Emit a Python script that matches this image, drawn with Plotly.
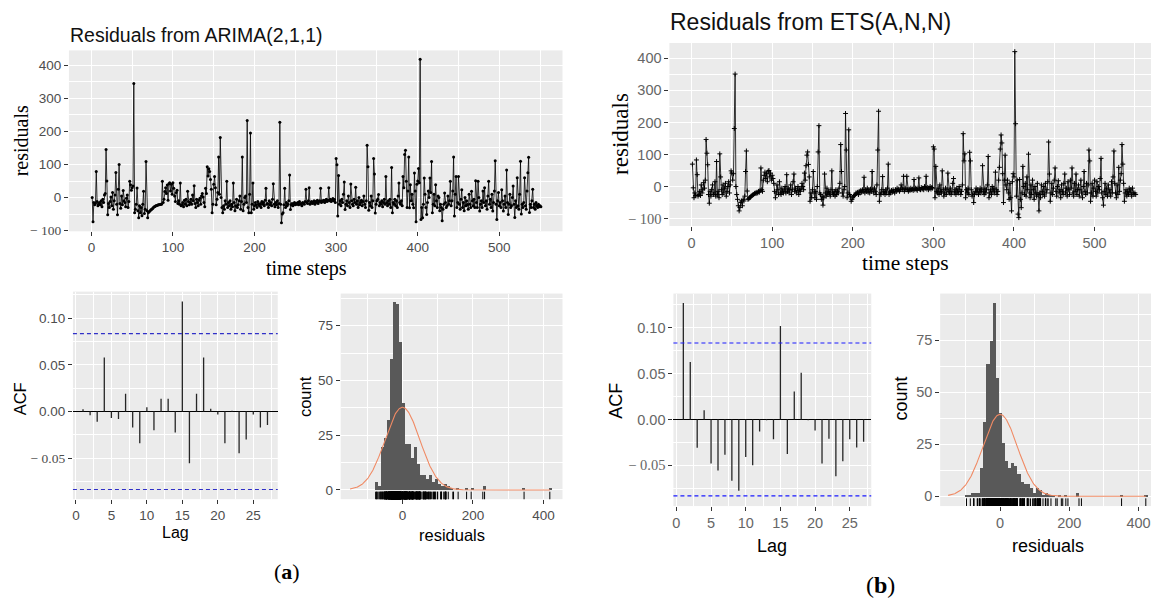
import numpy as np
import plotly.graph_objects as go

W, H = 1151, 605

# ---------------- data ----------------
arima_resid = [
    0, -73, -15, -22, -18, 79, -12, -25, -20, -15,
    -22, -10, -28, -5, -15, 8, 12, 145, 50, -52,
    -18, -30, -12, 2, -25, 15, -35, -10, 8, 76,
    -20, -52, 25, 100, -18, -32, 5, -22, 21, -10,
    -15, -28, -2, 8, -30, -12, 49, 39, 22, 30,
    35, 345, -46, -35, -20, 29, -40, -61, -25, -46,
    -30, -55, -20, 19, -48, -35, 109, -40, -61, -45,
    -42, -40, -37, -35, -33, -30, -28, -27, -25, -24,
    -23, -22, -22, -21, -20, -20, 49, -15, -5, 18,
    30, 12, 38, -8, 42, 45, 20, 40, 10, 45,
    28, 5, -12, 15, 22, -18, -10, -20, 44, -25,
    -22, -15, -28, -8, -20, -5, -25, 19, -12, -22,
    -15, -5, -20, 8, -10, 36, -18, -30, -5, -15,
    -25, -8, -2, -20, 5, 12, 2, -15, -28, 28,
    12, 93, 65, 87, 79, 55, 25, -46, -20, 40,
    64, 30, -22, -5, 15, 123, 10, 182, 0, -30,
    -46, -25, -35, -10, -20, 49, -30, -15, -25, -10,
    -35, -20, -28, 44, -15, -40, -25, -5, -30, -22,
    -10, 5, -35, -12, 123, -40, -20, 0, 5, -15,
    233, -30, -46, 10, 195, -46, -20, 44, -35, -25,
    -15, -22, -30, -12, -20, -25, -18, -30, -12, -20,
    -15, -25, -8, 28, -20, -18, -30, -10, -22, -15,
    -25, -5, 42, -20, -28, -15, -22, -10, -30, -18,
    228, -20, -76, -50, -46, -22, 28, -30, -15, -25,
    -20, -10, 68, -36, -22, -18, -25, -20, -15, -22,
    -18, -20, -15, -22, -12, -20, -18, -25, -15, -18,
    -20, -12, 25, -15, -18, -10, 30, -20, -15, -12,
    -18, -15, -10, -20, -12, -15, -8, -18, -12, -10,
    28, -15, -10, -12, -8, -15, -10, -5, -12, -8,
    30, -10, -5, -12, -8, -3, -10, -6, -15, 118,
    99, -56, 67, -20, -10, -25, -5, -15, 10, 47,
    -36, -20, -10, -25, 5, -15, -30, 41, -10, -20,
    -25, -5, -15, 31, -20, -10, -30, 0, -22, -15,
    -8, -25, -12, 5, -20, -30, -10, 158, 93, -38,
    -15, -25, 5, -30, -10, 118, 71, -47, -20, -10,
    -5, 9, -25, -15, -20, -10, -28, -15, -5, -20,
    64, -16, -25, -10, -20, -5, -30, 91, -46, -15,
    -20, -5, -25, -10, -30, 5, 44, -15, -20, -10,
    -25, 64, 30, 130, 143, 49, -30, 20, 123, -31,
    39, -10, 10, -20, -31, 74, 20, -73, 40, 50,
    88, 45, 418, -66, -30, -61, -20, 59, 10, -30,
    -51, -15, 20, 0, 59, 15, 109, -46, -20, 10,
    -25, 39, -10, -30, 5, 0, -40, -20, -30, -70,
    -35, -20, 14, -15, -30, -25, 5, -20, -10, 49,
    -25, -10, 20, 123, -56, 10, 64, -30, -15, 64,
    -20, -35, -5, 24, -30, -15, -40, 0, -25, -10,
    -21, -35, 10, -20, -30, 19, -10, -25, -5, -30,
    51, -15, -30, 49, 0, -41, -20, -10, -30, 20,
    -15, 30, -25, -10, -35, 5, 49, -20, -5, -30,
    10, -41, -15, 20, 111, -20, -66, -10, 15, -25,
    -15, -30, 24, -10, -41, -20, 5, -30, 83, -15,
    -51, -20, 10, -30, -25, 0, 35, -20, -60, -10,
    -30, 60, -25, -35, 10, 110, -50, -20, -30, -15,
    60, -25, -35, 20, 75, 122, -45, -20, -30, -10,
    25, -30, -20, -35, -15, -25, -30, -20, -28, -25,
    -28,
]

ets_resid = [
    70, -4, -35, -20, -28, 83, 37, -30, -25, -15,
    -28, 5, -20, -10, 12, -5, 20, 147, 104, 68,
    -25, -52, -15, -30, -10, 5, -25, -20, 15, -30,
    78, -25, -15, -35, 102, 30, -10, -25, 5, -20,
    -5, 10, -30, -15, 0, 15, -20, 5, 49, 42,
    20, 40, 181, 351, 0, -25, -40, -60, -76, -65,
    -50, -45, -60, -40, -45, -30, 47, 111, -14, -40,
    -38, -35, -33, -30, -28, -26, -25, -22, -20, -22,
    -18, -20, -15, -18, -12, 58, -10, -15, 20, 35,
    45, 25, 40, 15, 48, 50, 30, 42, 20, 35,
    25, 10, -15, -35, -20, 5, -10, -25, 15, -20,
    -25, -5, -15, -20, -10, 0, -20, 37, -15, -5,
    -20, -10, 5, -25, -10, 15, 39, -15, -5, -20,
    -12, 0, -25, -10, -15, -5, 10, 0, -10, 42,
    20, 65, 98, 108, 69, 30, -46, -20, -35, -10,
    47, -20, -35, -15, -40, 0, 108, 190, -20, -25,
    -40, -30, -58, -35, 39, -20, -30, -5, -25, -15,
    -20, -30, -10, 49, -20, -25, -15, -30, -10, -25,
    -15, -20, -5, 10, 131, 47, -20, -30, -10, 0,
    228, 114, -35, -20, 177, -25, -30, -46, -40, -35,
    -30, -28, -25, -20, -22, -18, -25, -15, -20, -12,
    -18, -10, -15, 29, -20, -10, -15, -5, -18, -10,
    -20, -8, -15, 47, -10, -20, -5, -15, -25, 5,
    114, 235, -46, -20, -25, -10, 31, -20, -15, -25,
    -10, -20, -5, 70, -25, -15, -20, -12, -18, -10,
    -15, -20, -10, -15, -5, -12, -8, -15, -10, 5,
    -5, -10, 32, -15, -5, -10, 32, -10, -15, -8,
    -12, -5, -10, -8, -12, 22, -10, -5, -8, -12,
    -5, 27, -8, -10, -3, -8, -5, -10, 0, -5,
    32, -8, -3, -10, -5, 0, -8, -3, -5, 124,
    117, -35, 63, -15, -20, -5, -25, 5, -15, -20,
    49, -10, -30, -20, -5, -25, -10, 42, -15, -20,
    -5, -25, -15, 10, 25, -20, -10, -25, -5, -15,
    -20, 0, -10, -25, -15, 5, 165, 80, 102, -35,
    -10, -20, -5, -25, 107, 80, -10, -30, -20, -50,
    -25, -15, -5, -20, -10, -25, -15, -5, -20, -10,
    65, -15, -25, -5, -20, -10, 5, 94, -35, -20,
    -10, -25, 0, -15, -5, -20, 45, -10, -25, -15,
    20, 60, 117, 161, 136, 40, -50, 20, 98, 5,
    -10, 20, -20, -40, 10, -35, -76, 15, 40, 30,
    421, 196, -30, 20, -86, -97, 22, -40, -66, -20,
    63, 0, -25, 10, -30, 30, -10, 101, -20, -35,
    5, -25, 20, -10, -40, 0, -20, -30, 10, -25,
    -76, -20, -35, 5, -15, -25, 0, -30, 10, -20,
    -10, 15, 139, 39, -46, -20, 10, -25, -5, 20,
    58, -15, -30, 0, 18, -20, -10, -35, 5, -15,
    -25, 10, 39, -20, -5, -30, 15, -10, -25, 20,
    -5, 58, -20, -30, 10, -15, 39, -25, -10, 5,
    -30, -10, 20, -20, -35, 0, 47, -15, -25, 10,
    -20, 5, 114, 80, -46, -20, 10, -30, -5, 20,
    -15, -30, 15, -20, 0, -10, 25, 88, -20, -35,
    -58, -15, 10, -25, -5, -30, 5, -20, -10, -30,
    15, -20, 30, 111, 10, -20, -35, 5, -25, 60,
    -15, 20, 40, 131, 70, 10, -46, -20, -10, -30,
    -15, -25, -5, -20, -10, -30, -5, -20, -25, -20,
    -25,
]

acf_lags = list(range(1, 28))
arima_acf = [0.0025, -0.004, -0.011, 0.058, -0.007, -0.008, 0.019, -0.017, -0.034,
             0.0046, -0.020, 0.0137, 0.0137, -0.0225, 0.118, -0.0553, 0.019, 0.058,
             0.003, -0.003, -0.034, 0.001, -0.0447, -0.030, -0.003, -0.017, -0.0145]
ets_acf = [0.127, 0.0626, -0.031, 0.010, -0.048, -0.0558, -0.0385, -0.067, -0.078,
           -0.041, -0.050, -0.0133, -0.001, -0.0216, 0.102, -0.0378, 0.0306, 0.051,
           -0.001, -0.0122, -0.048, -0.0212, -0.062, -0.0457, -0.0216, -0.0306, -0.0245]

arima_hist_counts = [4, 2, 20, 24, 32, 60, 86, 85, 68, 40, 21, 21, 15, 20, 12, 7, 7, 5, 7, 4,
                     5, 3, 2, 3, 2, 1, 0, 1, 0, 0, 1, 0, 1, 0, 0, 0, 2, 0, 0, 0,
                     0, 0, 0, 0, 0, 0, 0, 0, 0, 1, 0, 0, 0, 0, 0, 0, 0, 0, 1]
arima_first_bin_center = -75.0
arima_binwidth = 8.5

ets_hist_counts = [1, 1, 2, 2, 2, 14, 36, 64, 75, 93, 57, 40, 26, 17, 14, 16, 15, 11, 7, 6,
                   6, 4, 2, 4, 3, 1, 2, 1, 1, 0, 1, 0, 1, 0, 0, 0, 2, 0, 0, 0,
                   0, 0, 0, 0, 0, 0, 0, 0, 0, 0, 1, 0, 0, 0, 0, 0, 0, 0, 1]
ets_first_bin_center = -97.0
ets_binwidth = 8.95

arima_norm_mean, arima_norm_sd = 0.0, 49.5
ets_norm_mean, ets_norm_sd = 0.0, 50.0

ts_ticks = [-100, 0, 100, 200, 300, 400]
ts_ticktext = ['<span style="font-family:Liberation Serif">\u2212 100</span>', '0', '100', '200', '300', '400']
time_ticks = [0, 100, 200, 300, 400, 500]
acf_yticks = [-0.05, 0.0, 0.05, 0.10]
acf_yticktext = ['<span style="font-family:Liberation Serif">\u2212 0.05</span>', '0.00', '0.05', '0.10']
acf_xticks = [0, 5, 10, 15, 20, 25]
hist_xticks = [0, 200, 400]
hist_yticks = [0, 25, 50, 75]

# ---------------- helpers ----------------
def dom_x(a, b):
    return [a / W, min(b / W, 1.0)]

def dom_y(top, bottom):
    return [1 - bottom / H, 1 - top / H]

SANS = 'Liberation Sans'
SERIF = 'Liberation Serif'

def make_axis(domain, rng, tickvals, ticktext, minor_vals, fsize, fcolor, anchor, zeroline=False):
    d = dict(domain=domain, range=rng, tickmode='array', tickvals=tickvals,
             ticktext=ticktext if ticktext is not None else [str(v) for v in tickvals],
             ticks='outside', ticklen=4, tickwidth=1, tickcolor='#333333',
             showgrid=True, gridcolor='white', gridwidth=1.2,
             zeroline=zeroline, showline=False, anchor=anchor, fixedrange=True,
             tickfont=dict(family=SANS, size=fsize, color=fcolor),
             minor=dict(tickmode='array', tickvals=minor_vals, showgrid=True,
                        gridcolor='white', gridwidth=0.6, ticks=''))
    if zeroline:
        d.update(zerolinecolor='black', zerolinewidth=1)
    return d

t = list(range(1, len(arima_resid) + 1))
t_e = list(range(1, len(ets_resid) + 1))

fig = go.Figure()

# top time series
fig.add_trace(go.Scatter(x=t, y=arima_resid, mode='lines+markers',
                         line=dict(color='black', width=0.8),
                         marker=dict(size=3, color='black'),
                         xaxis='x', yaxis='y', showlegend=False))
fig.add_trace(go.Scatter(x=t_e, y=ets_resid, mode='lines+markers',
                         line=dict(color='black', width=0.8),
                         marker=dict(size=3.5, symbol='cross-thin-open', color='black',
                                     line=dict(width=1, color='black')),
                         xaxis='x2', yaxis='y2', showlegend=False))

# ACF
def acf_segments(lags, vals):
    xs, ys = [], []
    for l, v in zip(lags, vals):
        xs += [l, l, None]
        ys += [0, v, None]
    return xs, ys

n_obs = len(arima_resid)
ci = 1.96 / np.sqrt(n_obs)

for vals, xa, ya in [(arima_acf, 'x3', 'y3'), (ets_acf, 'x5', 'y5')]:
    xs, ys = acf_segments(acf_lags, vals)
    fig.add_trace(go.Scatter(x=xs, y=ys, mode='lines', line=dict(color='#262626', width=1.3),
                             xaxis=xa, yaxis=ya, showlegend=False))

# histograms
def add_hist(counts, c0, bw, resid, mean, sd, xa, ya, rug_y):
    centers = [c0 + k * bw for k in range(len(counts))]
    fig.add_trace(go.Bar(x=centers, y=counts, width=bw, marker=dict(color='#595959', line=dict(width=0)),
                         xaxis=xa, yaxis=ya, showlegend=False))
    xmin = min(min(resid), mean - 3 * sd)
    xmax = max(max(resid), mean + 3 * sd)
    xx = np.linspace(xmin, xmax, 400)
    yy = len(resid) * bw * np.exp(-0.5 * ((xx - mean) / sd) ** 2) / (sd * np.sqrt(2 * np.pi))
    fig.add_trace(go.Scatter(x=xx, y=yy, mode='lines', line=dict(color='#f08a64', width=1.1),
                             xaxis=xa, yaxis=ya, showlegend=False))
    fig.add_trace(go.Scatter(x=resid, y=[rug_y] * len(resid), mode='markers',
                             marker=dict(symbol='line-ns-open', size=6, color='black',
                                         line=dict(width=1, color='black')),
                             xaxis=xa, yaxis=ya, showlegend=False))

add_hist(arima_hist_counts, arima_first_bin_center, arima_binwidth, arima_resid,
         arima_norm_mean, arima_norm_sd, 'x4', 'y4', -2.7)
add_hist(ets_hist_counts, ets_first_bin_center, ets_binwidth, ets_resid,
         ets_norm_mean, ets_norm_sd, 'x6', 'y6', -3.0)

# ---------------- layout ----------------
tick_a = '#4d4d4d'
tick_b = '#666666'
layout = dict(
    width=W, height=H, margin=dict(l=0, r=0, t=0, b=0),
    paper_bgcolor='white', plot_bgcolor='#ebebeb', bargap=0, showlegend=False,
    xaxis=make_axis(dom_x(68, 562), [-27.5, 577.5], time_ticks, None,
                    [50, 150, 250, 350, 450, 550], 13.5, tick_a, 'y'),
    yaxis=make_axis(dom_y(51, 234), [-102, 445], ts_ticks, ts_ticktext,
                    [-50, 50, 150, 250, 350], 13.5, tick_a, 'x'),
    xaxis2=make_axis(dom_x(669, 1151), [-27.5, 570], time_ticks, None,
                     [50, 150, 250, 350, 450, 550], 14.5, tick_b, 'y2'),
    yaxis2=make_axis(dom_y(43.5, 228.6), [-123, 448], ts_ticks, ts_ticktext,
                     [-50, 50, 150, 250, 350], 14.5, tick_b, 'x2'),
    xaxis3=make_axis(dom_x(72, 277), [-0.42, 28.45], acf_xticks, None,
                     [2.5, 7.5, 12.5, 17.5, 22.5, 27.5], 13.5, tick_a, 'y3'),
    yaxis3=make_axis(dom_y(295, 505), [-0.0938, 0.1285], acf_yticks, acf_yticktext,
                     [-0.075, -0.025, 0.025, 0.075, 0.125], 13.5, tick_a, 'x3', zeroline=True),
    xaxis4=make_axis(dom_x(340, 562), [-175, 454], hist_xticks, None,
                     [-100, 100, 300], 13.5, tick_a, 'y4'),
    yaxis4=make_axis(dom_y(297, 505), [-4.2, 89.7], hist_yticks, None,
                     [12.5, 37.5, 62.5, 87.5], 13.5, tick_a, 'x4'),
    xaxis5=make_axis(dom_x(673, 871), [-0.43, 28.1], acf_xticks, None,
                     [2.5, 7.5, 12.5, 17.5, 22.5, 27.5], 14.5, tick_b, 'y5'),
    yaxis5=make_axis(dom_y(297, 512), [-0.0946, 0.1374], acf_yticks, acf_yticktext,
                     [-0.075, -0.025, 0.025, 0.075, 0.125], 14.5, tick_b, 'x5', zeroline=True),
    xaxis6=make_axis(dom_x(940, 1151), [-173, 436], hist_xticks, None,
                     [-100, 100, 300], 14.5, tick_b, 'y6'),
    yaxis6=make_axis(dom_y(297, 512), [-4.7, 97.4], hist_yticks, None,
                     [12.5, 37.5, 62.5, 87.5], 14.5, tick_b, 'x6'),
)
fig.update_layout(**layout)

# CI dashed lines for ACF
for xa, ya, col in [('x3', 'y3', '#3030c8'), ('x5', 'y5', '#1a1aff')]:
    for v in (ci, -ci):
        fig.add_shape(type='line', xref=f'{xa} domain', yref=ya, x0=0, x1=1, y0=v, y1=v,
                      line=dict(color=col, width=1.1, dash='4px,3px'))

def ann(text, x, y, size, family=SANS, angle=0, xanchor='center', color='black'):
    fig.add_annotation(text=text, xref='paper', yref='paper', x=x / W, y=1 - y / H,
                       xanchor=xanchor, yanchor='middle', showarrow=False, textangle=angle,
                       font=dict(family=family, size=size, color=color))

ann('Residuals from ARIMA(2,1,1)', 67, 35, 19.5, xanchor='left', color='#111111')
ann('Residuals from ETS(A,N,N)', 668, 22, 23, xanchor='left', color='#111111')
ann('residuals', 20, 142, 20, family=SERIF, angle=-90)
ann('time steps', 306, 272, 20, family=SERIF)
ann('residuals', 620, 135, 23, family=SERIF, angle=-90)
ann('time steps', 905, 266, 21.5, family=SERIF)
ann('ACF', 19, 403, 16.5, angle=-90)
ann('Lag', 175, 539, 16)
ann('count', 305, 401, 16.5, angle=-90)
ann('residuals', 451, 541, 16.5)
ann('ACF', 616, 405, 18, angle=-90)
ann('Lag', 772, 552, 18)
ann('count', 901, 403, 18, angle=-90)
ann('residuals', 1048, 552, 18)
ann('(<b>a</b>)', 286, 578, 22, family=SERIF)
ann('(<b>b</b>)', 880, 592, 24, family=SERIF)

fig.write_html('out.html')
